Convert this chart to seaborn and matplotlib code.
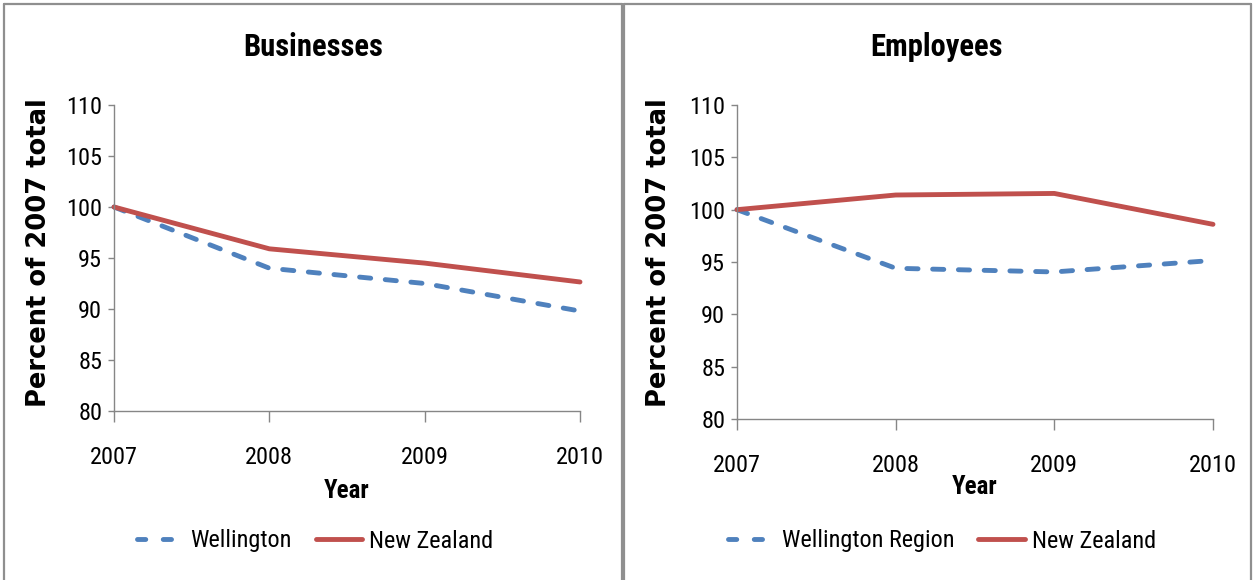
import pandas as pd
import matplotlib.pyplot as plt
import seaborn as sns
from matplotlib.lines import Line2D

# data
years = [2007, 2008, 2009, 2010]
biz_wellington = [100.0, 94.0, 92.5, 89.8]
biz_nz = [100.0, 95.9, 94.5, 92.65]
emp_wellington = [100.0, 94.4, 94.05, 95.15]
emp_nz = [100.0, 101.4, 101.55, 98.6]

blue = '#4F81BD'
red = '#C0504D'
gray = '#868686'

sns.set_theme(style='white')
plt.rcParams['font.family'] = ['Roboto Condensed', 'Archivo Narrow', 'PT Sans Narrow',
                               'Liberation Sans', 'DejaVu Sans']
plt.rcParams['text.color'] = 'black'

W, H = 1256, 580
fig = plt.figure(figsize=(W / 100, H / 100), dpi=100)
LW = 3.5


def px(x0, y0, x1, y1):
    # pixel box (top-left origin) -> figure fraction rect
    return [x0 / W, 1 - y1 / H, (x1 - x0) / W, (y1 - y0) / H]


def panel(rect, title, wel_vals, nz_vals, wel_name, title_x, ylab_x, year_xy, leg_x):
    ax = fig.add_axes(px(*rect))
    df = pd.DataFrame({
        'Year': years * 2,
        'value': wel_vals + nz_vals,
        'series': [wel_name] * 4 + ['New Zealand'] * 4,
    })
    sns.lineplot(data=df, x='Year', y='value', hue='series', style='series',
                 palette={wel_name: blue, 'New Zealand': red},
                 dashes={wel_name: (2.3, 3.0), 'New Zealand': ''},
                 linewidth=LW, ax=ax, legend=False)
    for ln in ax.lines:
        ln.set_clip_on(False)
        ln.set_dash_capstyle('round')
    ax.set_xlim(2007, 2010)
    ax.set_ylim(80, 110)
    ax.set_xticks(years)
    ax.set_xticklabels([str(y) for y in years])
    ax.set_yticks(range(80, 111, 5))
    ax.set_xlabel('')
    ax.set_ylabel('')
    for s in ['top', 'right']:
        ax.spines[s].set_visible(False)
    for s in ['left', 'bottom']:
        ax.spines[s].set_color(gray)
        ax.spines[s].set_linewidth(1.0)
    ax.tick_params(axis='y', direction='out', length=4.5, width=1, color=gray,
                   labelsize=17.5, labelcolor='black', pad=4, left=True)
    ax.tick_params(axis='x', direction='out', length=8, width=1, color=gray,
                   labelsize=17.5, labelcolor='black', pad=17, bottom=True)

    fig.text(title_x / W, 1 - 47 / H, title, ha='center', va='center',
             fontsize=22, fontweight='bold')
    fig.text(ylab_x / W, 1 - 253 / H, 'Percent of 2007 total', rotation=90,
             ha='center', va='center', fontsize=18.5, fontweight='bold',
             family='DejaVu Sans')
    fig.text(year_xy[0] / W, 1 - year_xy[1] / H, 'Year', ha='center', va='center',
             fontsize=18, fontweight='bold')

    handles = [Line2D([], [], color=blue, lw=LW, dashes=(1.7, 3.6),
                      dash_capstyle='round'),
               Line2D([], [], color=red, lw=LW)]
    fig.legend(handles, [wel_name, 'New Zealand'], ncol=2, frameon=False,
               loc='center', bbox_to_anchor=(leg_x / W, 1 - 541 / H),
               fontsize=17.5, handlelength=1.9, handletextpad=0.3,
               columnspacing=1.0)
    return ax


panel((114, 105, 580, 411), 'Businesses', biz_wellington, biz_nz, 'Wellington',
      313, 39, (347, 491), 315)
panel((737, 105, 1213, 419), 'Employees', emp_wellington, emp_nz, 'Wellington Region',
      937, 659, (975, 487), 942)

# chart-area borders
bc = '#8f8f8f'
for x0, x1 in [(4, 622), (624, 1251)]:
    fig.add_artist(Line2D([x0 / W, x0 / W], [0, 1 - 4 / H], color=bc, lw=1.6))
    fig.add_artist(Line2D([x1 / W, x1 / W], [0, 1 - 4 / H], color=bc, lw=1.6))
    fig.add_artist(Line2D([x0 / W, x1 / W], [1 - 4 / H, 1 - 4 / H], color=bc, lw=1.6))

fig.savefig('out.png', dpi=100)
